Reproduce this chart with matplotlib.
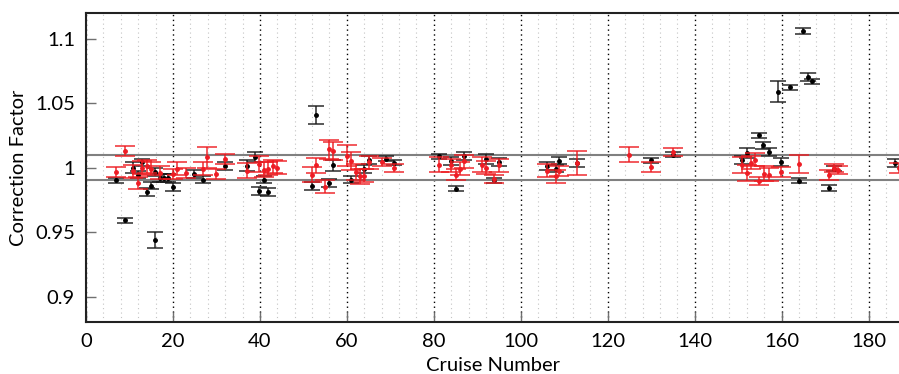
import numpy as np
import matplotlib.pyplot as plt
from matplotlib.ticker import MultipleLocator

plt.rcParams['font.family'] = ['Lato', 'DejaVu Sans']

# Correction factors per cruise (black series)
black_x = [7, 9, 10.8, 11.9, 12.9, 14, 14.9, 15.9, 15.9, 16.9, 17.9, 18.9, 19.9, 24.9, 27, 32,
           37, 38.9, 39.9, 41, 41.9, 51.9, 52.9, 56, 56.9, 61, 64, 65, 69, 70.9,
           81.1, 84, 85, 87, 92, 93.9, 95, 106, 108, 108.9, 113, 130, 135,
           151, 152, 154.9, 155.8, 157, 159.1, 159.9, 162, 164.1, 164.9, 166, 167, 171, 172, 186.1]
black_y = [0.990, 0.959, 1.000, 0.9946, 1.004, 0.981, 0.986, 0.944, 0.9967, 0.992, 0.992, 0.992, 0.985, 0.995, 0.9907, 1.001,
           1.0015, 1.0083, 0.9816, 0.9907, 0.9808, 0.9855, 1.041, 0.988, 1.0016, 0.9907, 0.999, 1.006, 1.0068, 1.0036,
           1.0088, 1.0049, 0.9837, 1.0088, 1.0068, 0.990, 1.0044, 1.001, 0.9992, 1.0054, 1.0036, 1.0057, 1.0101,
           1.006, 1.0114, 1.0251, 1.0171, 1.0122, 1.0588, 1.0044, 1.0623, 0.9899, 1.1058, 1.0704, 1.067, 0.9842, 0.999, 1.0036]
black_err = [0.002, 0.002, 0.004, 0.003, 0.003, 0.003, 0.003, 0.006, 0.003, 0.003, 0.003, 0.003, 0.003, 0.003, 0.003, 0.003,
             0.004, 0.004, 0.003, 0.003, 0.003, 0.003, 0.007, 0.003, 0.004, 0.003, 0.003, 0.003, 0.002, 0.002,
             0.002, 0.003, 0.002, 0.003, 0.004, 0.002, 0.003, 0.003, 0.003, 0.003, 0.003, 0.002, 0.002,
             0.003, 0.004, 0.002, 0.003, 0.003, 0.008, 0.003, 0.002, 0.002, 0.002, 0.003, 0.002, 0.002, 0.002, 0.003]

# Correction factors per cruise (red series)
red_x = [6.9, 9, 10.8, 11.9, 12.9, 14, 14.9, 16.9, 20.1, 21, 23, 27, 27.9, 29.9, 32,
         37, 39.9, 41, 41.9, 42.9, 43.9, 51.9, 52.9, 55, 56, 56.9, 60, 61, 62, 63, 64, 65,
         68, 70.9, 81.1, 84, 85, 86, 87, 91, 92, 93.9, 95, 106, 108, 108.9, 113, 125, 130, 135,
         150.9, 152, 152.9, 153.9, 154.9, 156, 157, 159.9, 163.9, 171, 172, 173, 186.9]
red_y = [0.9964, 1.0127, 0.997, 0.988, 1.000, 1.001, 0.9992, 0.996, 0.9951, 0.999, 0.9959, 0.999, 1.008, 0.9951, 1.0068,
         0.9977, 1.0029, 0.9984, 0.999, 1.001, 0.9998, 0.9946, 1.0016, 0.985, 1.014, 1.0127, 1.0093, 1.0054, 0.9964, 0.9932, 0.9938, 1.0041,
         1.0041, 0.9998, 1.0023, 1.0016, 0.9946, 0.999, 1.0049, 1.0023, 0.9998, 0.9912, 1.0016, 0.9977, 0.9932, 0.9971, 1.0036, 1.0101, 1.0002, 1.0122,
         1.0018, 0.9959, 1.0036, 1.0062, 0.9894, 0.9953, 0.9946, 0.9967, 1.0031, 0.994, 0.9998, 0.9979, 0.9998]
red_err = [0.004, 0.004, 0.005, 0.005, 0.005, 0.005, 0.005, 0.005, 0.004, 0.005, 0.004, 0.005, 0.008, 0.004, 0.004,
           0.006, 0.006, 0.006, 0.005, 0.005, 0.005, 0.006, 0.006, 0.005, 0.007, 0.007, 0.008, 0.007, 0.006, 0.006, 0.005, 0.005,
           0.003, 0.003, 0.006, 0.005, 0.004, 0.005, 0.005, 0.006, 0.005, 0.003, 0.005, 0.005, 0.005, 0.004, 0.009, 0.006, 0.004, 0.003,
           0.006, 0.006, 0.005, 0.005, 0.003, 0.006, 0.005, 0.004, 0.007, 0.004, 0.003, 0.003, 0.004]

limit_lines = [0.99, 1.01]
y_ticks = [0.9, 0.95, 1.0, 1.05, 1.1]
y_tick_labels = ['0.9', '0.95', '1', '1.05', '1.1']

fig = plt.figure(figsize=(8.99, 3.74), dpi=100)
ax = fig.add_axes([0.0957, 0.138, 0.9043, 0.828])

ax.errorbar(black_x, black_y, yerr=black_err, fmt='.', color='black', ecolor=(0.1, 0.1, 0.1, 0.85),
            markersize=5, elinewidth=1.2, capsize=6, capthick=1.2, zorder=3)
ax.errorbar(red_x, red_y, yerr=red_err, fmt='.', color='#ee1c24', ecolor=(0.93, 0.1, 0.12, 0.85),
            markersize=5, elinewidth=1.2, capsize=7, capthick=1.2, zorder=4)

for yl in limit_lines:
    ax.axhline(yl, color='#808080', linewidth=1.5, zorder=2)

ax.set_xlim(0, 187)
ax.set_ylim(0.88, 1.12)
ax.xaxis.set_major_locator(MultipleLocator(20))
ax.xaxis.set_minor_locator(MultipleLocator(4))
ax.set_yticks(y_ticks)
ax.set_yticklabels(y_tick_labels)

ax.grid(True, which='major', axis='x', color='black', linestyle=(0, (1, 2.5)), linewidth=1.0)
ax.grid(True, which='minor', axis='x', color='#c4c4c4', linestyle=(0, (1, 3)), linewidth=0.8)
ax.set_axisbelow(True)

ax.tick_params(which='major', direction='in', length=7, width=1, color='#707070',
               labelsize=14.5, pad=8)
ax.tick_params(which='minor', length=0)
ax.spines['right'].set_visible(False)
for s in ['left', 'top', 'bottom']:
    ax.spines[s].set_linewidth(1.5)
    ax.spines[s].set_color('#222222')

ax.set_xlabel("Cruise Number", fontsize=14.5, labelpad=5)
ax.set_ylabel("Correction Factor", fontsize=14.5, labelpad=6)

fig.savefig("out.png", dpi=100)
